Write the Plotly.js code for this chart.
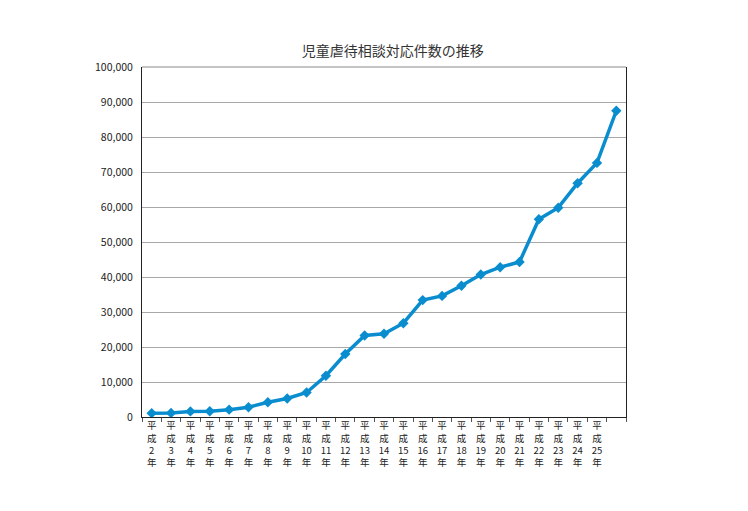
<!DOCTYPE html>
<html>
<head>
<meta charset="utf-8">
<script src="https://cdn.plot.ly/plotly-3.0.1.min.js"></script>
<style>html,body{margin:0;padding:0;background:#fff;}#chart{width:748px;height:511px;}</style>
</head>
<body>
<div id="chart"></div>
<script>
// Heisei years (平成2年 … 平成26年)
const years = [2,3,4,5,6,7,8,9,10,11,12,13,14,15,16,17,18,19,20,21,22,23,24,25,26];
// 児童虐待相談対応件数
const counts = [1100,1150,1600,1650,2100,2800,4200,5300,7000,11800,18000,23300,23800,26800,33400,34600,37500,40700,42800,44300,56500,59800,66800,72600,87500];
// tick labels (the last year has no label in the original)
const labelYears = [2,3,4,5,6,7,8,9,10,11,12,13,14,15,16,17,18,19,20,21,22,23,24,25];
const tickLabels = labelYears.map(y => '平<br>成<br>' + y + '<br>年');
const titleText = '児童虐待相談対応件数の推移';

const font = '"Noto Sans CJK JP", "Noto Sans", sans-serif';

Plotly.newPlot('chart', [{
  x: years,
  y: counts,
  type: 'scatter',
  mode: 'lines+markers',
  line: {color: '#0a8dcf', width: 3.5},
  marker: {symbol: 'diamond', size: 8, color: '#0a8dcf'},
  hoverinfo: 'x+y'
}], {
  width: 748, height: 511,
  margin: {l: 142, r: 122, t: 67, b: 94},
  paper_bgcolor: '#fff', plot_bgcolor: '#fff',
  showlegend: false,
  font: {family: font, color: '#222', size: 11},
  title: {text: titleText, x: 0.525, xanchor: 'center', y: 0.9, yanchor: 'middle',
          font: {family: font, size: 14, color: '#333'}},
  shapes: [{type: 'line', xref: 'paper', yref: 'paper', x0: 0, x1: 1, y0: 1, y1: 1,
            line: {color: '#8a8a8a', width: 1.2}}],
  xaxis: {
    range: [1.5, 26.5],
    tickmode: 'array', tickvals: labelYears, ticktext: tickLabels,
    ticks: '', showgrid: false, zeroline: false,
    showline: true, linecolor: '#222', linewidth: 1,
    tickfont: {family: font, size: 9.5, color: '#222'},
    minor: {tickmode: 'linear', tick0: 1.5, dtick: 1, ticks: 'outside', ticklen: 4, tickcolor: '#555', tickwidth: 1, showgrid: false},
    fixedrange: true
  },
  yaxis: {
    range: [0, 100000], dtick: 10000, tickformat: ',d',
    showgrid: true, gridcolor: '#a8a8a8', gridwidth: 1,
    zeroline: false, showline: true, linecolor: '#222', linewidth: 1, mirror: true,
    ticks: '', ticklabelstandoff: 6,
    tickfont: {family: font, size: 10.5, color: '#222'},
    fixedrange: true
  }
}, {displayModeBar: false, staticPlot: true});
</script>
</body>
</html>
